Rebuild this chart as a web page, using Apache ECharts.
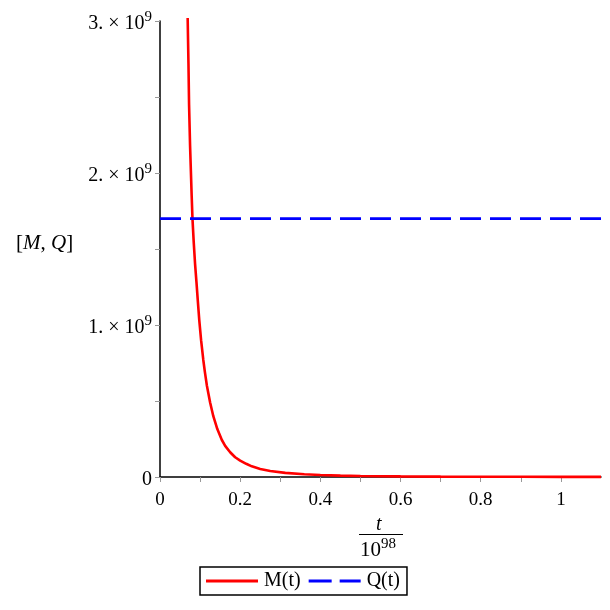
<!DOCTYPE html>
<html><head><meta charset="utf-8">
<script src="https://cdn.jsdelivr.net/npm/echarts@6/dist/echarts.min.js"></script>
<style>html,body{margin:0;padding:0;background:#fff}#c{width:610px;height:610px}</style>
</head><body><div id="c"></div>
<script>
// t values (in units of 10^98) and M(t) values
var tValues = [0.069, 0.071, 0.0725, 0.075, 0.079, 0.081, 0.084, 0.0875, 0.091, 0.094, 0.098, 0.1025, 0.108, 0.112, 0.117, 0.125, 0.133, 0.143, 0.154, 0.1625, 0.175, 0.1875, 0.2, 0.215, 0.229, 0.25, 0.275, 0.3125, 0.36, 0.4, 0.45, 0.5, 0.6, 0.7, 0.8, 0.9, 1.0, 1.1];
var mValues = [3.02e9, 2.72e9, 2.45e9, 2.18e9, 1.85e9, 1.70e9, 1.55e9, 1.40e9, 1.28e9, 1.17e9, 1.03e9, 0.90e9, 0.77e9, 0.69e9, 0.60e9, 0.49e9, 0.40e9, 0.315e9, 0.245e9, 0.205e9, 0.163e9, 0.13e9, 0.108e9, 0.087e9, 0.07e9, 0.053e9, 0.04e9, 0.027e9, 0.018e9, 0.013e9, 0.009e9, 0.0065e9, 0.0038e9, 0.0025e9, 0.0017e9, 0.0012e9, 0.0009e9, 0.0007e9];
var qT = [0, 1.1];
var qValues = [1.70e9, 1.70e9];
var xTicks = [0, 0.1, 0.2, 0.3, 0.4, 0.5, 0.6, 0.7, 0.8, 0.9, 1.0];
var xTickLabels = [0, 0.2, 0.4, 0.6, 0.8, 1];
var yTicks = [0, 0.5e9, 1e9, 1.5e9, 2e9, 2.5e9, 3e9];
var yTickLabels = [0, 1e9, 2e9, 3e9];
var seriesNames = ['M(t)', 'Q(t)'];

var serif = '"Liberation Serif", "DejaVu Serif", serif';
var chart = echarts.init(document.getElementById('c'));
chart.setOption({
  animation: false,
  grid: {left: 160, right: 9, top: 21, bottom: 133},
  xAxis: {
    type: 'value', min: 0, max: 1.1,
    axisLine: {onZero: false, lineStyle: {color: '#000', width: 1.5}},
    axisTick: {show: true, customValues: xTicks, length: 5, lineStyle: {color: '#999'}},
    axisLabel: {customValues: xTickLabels, fontFamily: serif, fontSize: 19, color: '#000', margin: 14,
      formatter: function (v) { return String(Math.round(v * 10) / 10); }},
    splitLine: {show: false}
  },
  yAxis: {
    type: 'value', min: 0, max: 3e9,
    axisLine: {show: true, onZero: false, lineStyle: {color: '#000', width: 1.5}},
    axisTick: {show: true, customValues: yTicks, length: 5, lineStyle: {color: '#999'}},
    axisLabel: {customValues: yTickLabels, fontFamily: serif, fontSize: 20, color: '#000', margin: 8,
      padding: [6, 0, 0, 0],
      formatter: function (v) {
        if (v === 0) return '0';
        return (v / 1e9) + '. \u00d7 10{sup|9}';
      },
      rich: {sup: {fontFamily: serif, fontSize: 15, verticalAlign: 'bottom', padding: [0, 0, 13, 0], color: '#000'}}
    },
    splitLine: {show: false}
  },
  legend: {
    left: 200, top: 567, orient: 'horizontal',
    borderColor: '#000', borderWidth: 1.5, padding: [4, 7, 4, 6],
    itemWidth: 52, itemHeight: 3, itemGap: 8,
    textStyle: {fontFamily: serif, fontSize: 20, color: '#000', padding: [0, 0, 0, 1]},
    data: [
      {name: seriesNames[0], icon: 'path://M0,0h52v3h-52z', itemStyle: {color: '#ff0000'}},
      {name: seriesNames[1], icon: 'path://M0,0h23v3h-23zM31,0h21v3h-21z', itemStyle: {color: '#0000ff'}}
    ]
  },
  series: [
    {
      name: seriesNames[0], type: 'line', symbol: 'none', showSymbol: false,
      clip: false,
      lineStyle: {color: '#ff0000', width: 2.6},
      itemStyle: {color: '#ff0000'},
      data: tValues.map(function (t, i) { return [t, mValues[i]]; })
    },
    {
      name: seriesNames[1], type: 'line', symbol: 'none', showSymbol: false,
      lineStyle: {color: '#0000ff', width: 2.6, type: [21, 9]},
      itemStyle: {color: '#0000ff'},
      data: qT.map(function (t, i) { return [t, qValues[i]]; })
    }
  ],
  graphic: [
    {type: 'text', left: 16, top: 233, style: {text: '[{i|M}, {i|Q}]', fontFamily: serif, fontSize: 21, fill: '#000',
      rich: {i: {fontFamily: serif, fontSize: 21, fontStyle: 'italic'}}}},
    {type: 'text', left: 376, top: 515, style: {text: 't', fontFamily: serif, fontSize: 20, fontStyle: 'italic', fill: '#000'}},
    {type: 'line', shape: {x1: 359, y1: 534.5, x2: 403, y2: 534.5}, style: {stroke: '#000', lineWidth: 1.2}},
    {type: 'text', left: 360, top: 537, style: {text: '10{sup|98}', fontFamily: serif, fontSize: 21, fill: '#000',
      rich: {sup: {fontFamily: serif, fontSize: 15, verticalAlign: 'bottom', padding: [0, 0, 12, 0]}}}}
  ]
});
</script></body></html>
